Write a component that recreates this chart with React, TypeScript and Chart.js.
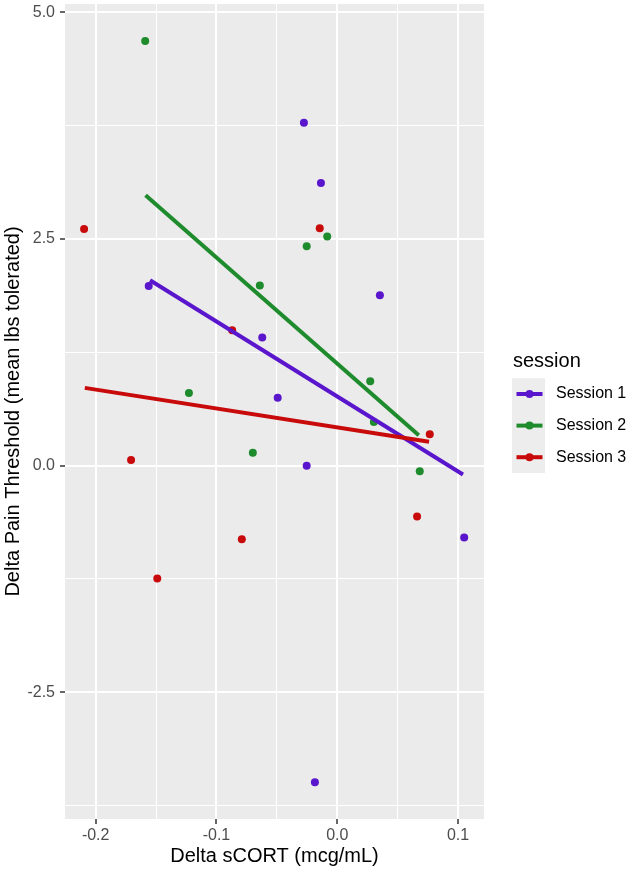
import React, { useEffect, useRef } from "react";
import { Chart, registerables } from "chart.js";

Chart.register(...registerables);

// sessions
const sessionNames = ["Session 1", "Session 2", "Session 3"];
const sessionColors = ["#5A16CC", "#1E8B2C", "#C80A0A"];

// Delta sCORT (x) and Delta Pain Threshold (y) per session
const s1X = [-0.0276, -0.0135, -0.1561, 0.0353, -0.0621, -0.0493, -0.0253, 0.1051, -0.0185];
const s1Y = [3.784, 3.118, 1.982, 1.879, 1.413, 0.747, -0.003, -0.793, -3.495];
const s2X = [-0.159, -0.0253, -0.0083, -0.0641, -0.1228, 0.0273, 0.0303, -0.0699, 0.0683];
const s2Y = [4.684, 2.42, 2.527, 1.986, 0.802, 0.931, 0.482, 0.14, -0.062];
const s3X = [-0.2096, -0.0145, -0.087, 0.0766, -0.1707, -0.079, -0.149, 0.0661];
const s3Y = [2.611, 2.618, 1.493, 0.346, 0.06, -0.812, -1.245, -0.561];

// fitted lines (start, end)
const fit1X = [-0.155, 0.1041];
const fit1Y = [2.045, -0.098];
const fit2X = [-0.1587, 0.0675];
const fit2Y = [2.982, 0.335];
const fit3X = [-0.209, 0.076];
const fit3Y = [0.857, 0.262];

// axis ticks (major + minor)
const xTicks = [-0.2, -0.15, -0.1, -0.05, 0, 0.05, 0.1];
const yTicks = [-3.75, -2.5, -1.25, 0, 1.25, 2.5, 3.75, 5];

const xMajor = (v: number) => Math.abs(v * 10 - Math.round(v * 10)) < 1e-6;
const yMajor = (v: number) => Math.abs(v / 2.5 - Math.round(v / 2.5)) < 1e-6;

const pts = (xs: number[], ys: number[]) => xs.map((x, i) => ({ x, y: ys[i] }));

const FONT = "'Liberation Sans', Arial, Helvetica, sans-serif";

const panelBg = {
    id: "panelBg",
    beforeDraw(chart: any) {
        const { ctx, chartArea } = chart;
        ctx.save();
        ctx.fillStyle = "#EBEBEB";
        ctx.fillRect(chartArea.left, chartArea.top, chartArea.right - chartArea.left, chartArea.bottom - chartArea.top);
        ctx.restore();
    }
};

// ggplot-like legend on the right
const sessionLegend = {
    id: "sessionLegend",
    afterDraw(chart: any) {
        const ctx = chart.ctx;
        ctx.save();
        ctx.fillStyle = "#000";
        ctx.font = `20px ${FONT}`;
        ctx.textBaseline = "alphabetic";
        ctx.textAlign = "left";
        ctx.fillText("session", 513, 367);

        const keyLeft = 512, keyW = 33, keyH = 31.6, keyTop = 378.2;
        ctx.fillStyle = "#EDEDED";
        ctx.fillRect(keyLeft, keyTop, keyW, keyH * sessionNames.length);
        sessionNames.forEach((name, i) => {
            const cy = keyTop + keyH * (i + 0.5);
            ctx.strokeStyle = sessionColors[i];
            ctx.lineWidth = 4;
            ctx.beginPath();
            ctx.moveTo(keyLeft + 4.5, cy);
            ctx.lineTo(keyLeft + keyW - 2.5, cy);
            ctx.stroke();
            ctx.fillStyle = sessionColors[i];
            ctx.beginPath();
            ctx.arc(keyLeft + keyW / 2 + 1, cy, 4, 0, Math.PI * 2);
            ctx.fill();
            ctx.fillStyle = "#000";
            ctx.font = `16px ${FONT}`;
            ctx.textBaseline = "middle";
            ctx.fillText(name, 556, cy);
        });
        ctx.restore();
    }
};

const App = () => {
    const chartRef = useRef<HTMLCanvasElement>(null);

    useEffect(() => {
        let chartInstance: Chart | undefined;
        if (chartRef.current) {
            const ctx = chartRef.current.getContext("2d");
            const pointSets = [pts(s1X, s1Y), pts(s2X, s2Y), pts(s3X, s3Y)];
            const fitSets = [pts(fit1X, fit1Y), pts(fit2X, fit2Y), pts(fit3X, fit3Y)];
            chartInstance = new Chart(ctx, {
                type: "scatter",
                data: {
                    datasets: [
                        ...pointSets.map((data, i) => ({
                            label: sessionNames[i],
                            data,
                            backgroundColor: sessionColors[i],
                            borderWidth: 0,
                            pointRadius: 4,
                            order: 6 - i
                        })),
                        ...fitSets.map((data, i) => ({
                            label: sessionNames[i] + " fit",
                            data,
                            showLine: true,
                            borderColor: sessionColors[i],
                            borderWidth: 4,
                            pointRadius: 0,
                            order: 3 - i
                        }))
                    ]
                },
                options: {
                    animation: false,
                    responsive: false,
                    layout: { padding: { left: 0, top: 4, right: 146, bottom: 0 } },
                    plugins: {
                        legend: { display: false },
                        tooltip: { enabled: false }
                    },
                    scales: {
                        x: {
                            type: "linear",
                            min: -0.2254,
                            max: 0.1215,
                            afterBuildTicks: (scale: any) => {
                                scale.ticks = xTicks.map((value) => ({ value }));
                            },
                            afterFit: (scale: any) => {
                                scale.height = 53;
                                scale.paddingLeft = 0;
                                scale.paddingRight = 0;
                            },
                            border: { display: false },
                            grid: {
                                color: "#FFFFFF",
                                lineWidth: (c: any) => (c.tick && xMajor(c.tick.value) ? 2 : 1),
                                tickColor: (c: any) => (c.tick && xMajor(c.tick.value) ? "#333333" : "rgba(0,0,0,0)"),
                                tickLength: 5,
                                tickWidth: 1.5
                            },
                            ticks: {
                                autoSkip: false,
                                maxRotation: 0,
                                padding: 2,
                                color: "#4D4D4D",
                                font: { family: FONT, size: 16 },
                                callback: (v: any) => (xMajor(Number(v)) ? Number(v).toFixed(1) : "")
                            },
                            title: {
                                display: true,
                                text: "Delta sCORT (mcg/mL)",
                                color: "#000",
                                font: { family: FONT, size: 20 },
                                padding: { top: 0, bottom: 3.5 }
                            }
                        },
                        y: {
                            type: "linear",
                            min: -3.9,
                            max: 5.093,
                            afterBuildTicks: (scale: any) => {
                                scale.ticks = yTicks.map((value) => ({ value }));
                            },
                            afterFit: (scale: any) => {
                                scale.width = 65;
                                scale.paddingTop = 0;
                                scale.paddingBottom = 0;
                            },
                            border: { display: false },
                            grid: {
                                color: "#FFFFFF",
                                lineWidth: (c: any) => (c.tick && yMajor(c.tick.value) ? 2 : 1),
                                tickColor: (c: any) => (c.tick && yMajor(c.tick.value) ? "#333333" : "rgba(0,0,0,0)"),
                                tickLength: 5,
                                tickWidth: 1.5
                            },
                            ticks: {
                                autoSkip: false,
                                padding: 5,
                                color: "#4D4D4D",
                                font: { family: FONT, size: 16 },
                                callback: (v: any) => (yMajor(Number(v)) ? Number(v).toFixed(1) : "")
                            },
                            title: {
                                display: true,
                                text: "Delta Pain Threshold (mean lbs tolerated)",
                                color: "#000",
                                font: { family: FONT, size: 20 },
                                padding: { top: 1, bottom: 0 }
                            }
                        }
                    }
                },
                plugins: [panelBg, sessionLegend]
            } as any);
        }

        return () => {
            if (chartInstance) {
                chartInstance.destroy();
            }
        };
    }, []);

    return (
        <div style={{ position: "absolute", left: 0, top: 0, width: 630, height: 872, background: "#fff" }}>
            <canvas ref={chartRef} width={630} height={872} />
        </div>
    );
};

export default App;
